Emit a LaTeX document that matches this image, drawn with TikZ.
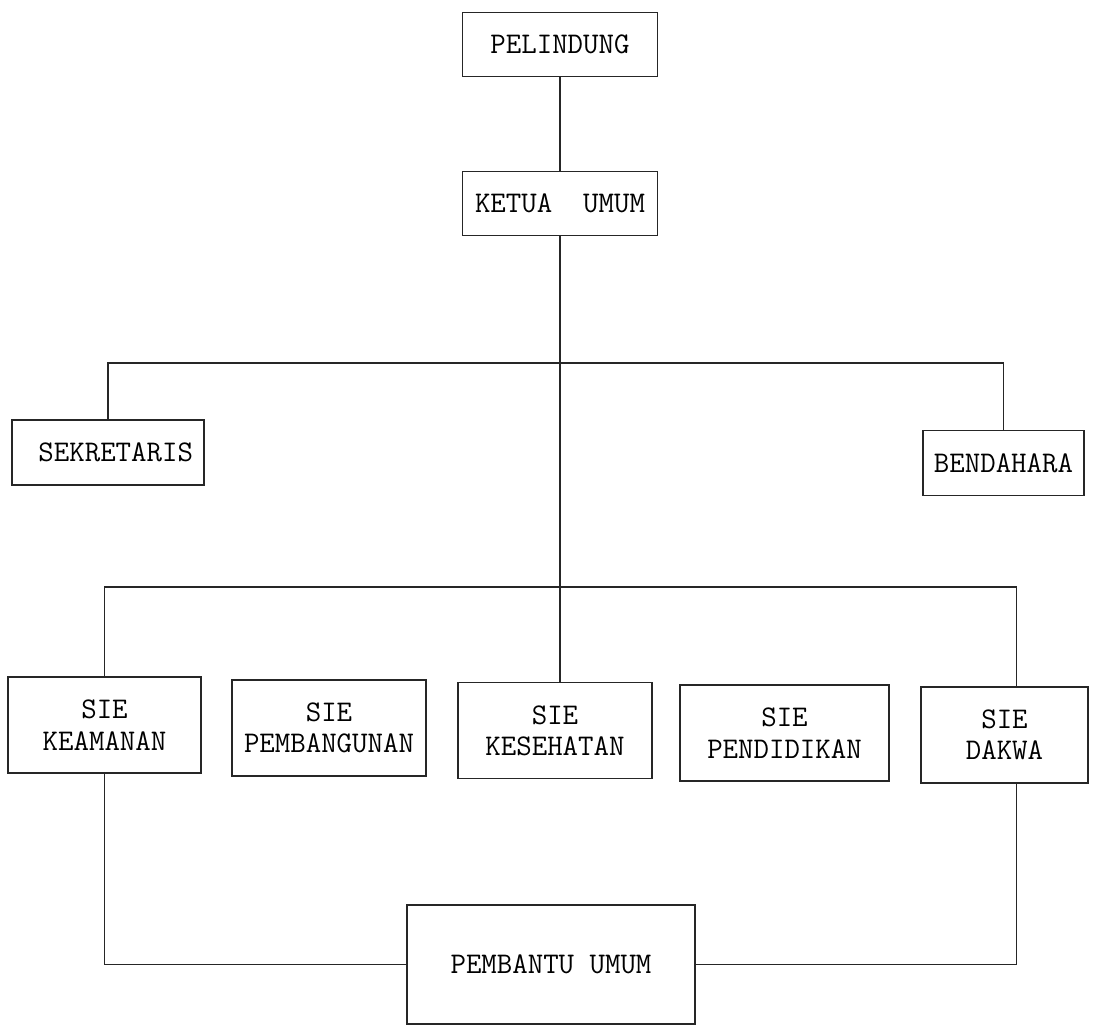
\documentclass[tikz,border=0pt]{standalone}
\usepackage{tikz}
\usetikzlibrary{calc}

\begin{document}
\begin{tikzpicture}[
  x=0.75pt, y=-0.75pt,
  line width=1.2pt,
  box/.style={
    rectangle,
    fill=white!100,
    line width=1.2pt,
    draw=black!85,
    inner sep=0pt,
    outer sep=0pt,
    align=center,
    font=\fontsize{22.5}{23.5}\selectfont\ttfamily
  },
  top box/.style={
    box,
    minimum height=48pt, minimum width=146pt
  },
  staff box/.style={
    box,
    minimum height=48.5pt
  },
  sie box/.style={
    box,
    minimum height=72pt
  },
  helper box/.style={
    box,
    minimum height=89pt, minimum width=216pt
  },
  link/.style={
    draw=black!85,
    line width=1.2pt
  }
  ]
\useasboundingbox (0,0) rectangle (1101,1031);
% Pelindung and Ketua Umum
\node [top box] (pelindung) at (560,44.5) {PELINDUNG};
\node [top box] (ketua umum) at (560,203.5) {KETUA~~UMUM};
\draw[link] (pelindung.south) -- (ketua umum.north);
% Sekretaris and Bendahara
\node [staff box, minimum width=144pt] (sekretaris) at (108,452.5) {~SEKRETARIS};
\node [staff box, minimum width=121pt] (bendahara) at (1003.5,463) {BENDAHARA};
\coordinate (bus top) at (560,363);
\draw[link] (sekretaris.north) |- (bus top) -| (bendahara.north);
% Seksi
\node [sie box, minimum width=145pt] (keamanan) at (104.5,725) {SIE\\KEAMANAN};
\node [sie box, minimum width=145.5pt] (pembangunan) at (329,728) {SIE\\PEMBANGUNAN};
\node [sie box, minimum width=145.5pt] (kesehatan) at (555,730.5) {SIE\\KESEHATAN};
\node [sie box, minimum width=157pt] (pendidikan) at (784.5,733) {SIE\\PENDIDIKAN};
\node [sie box, minimum width=125pt] (dakwa) at (1004.5,735) {SIE\\DAKWA};
\draw[link] (ketua umum.south) -- (ketua umum.south |- kesehatan.north);
\coordinate (bus low) at (560,587);
\draw[link] (keamanan.north) |- (bus low) -| ($(dakwa.north)+(12,0)$);
% Pembantu Umum
\node [helper box] (pembantu umum) at (551,964.5) {PEMBANTU UMUM};
\draw[link] (keamanan.south) |- (pembantu umum.west);
\draw[link] ($(dakwa.south)+(12,0)$) |- (pembantu umum.east);
\end{tikzpicture}
\end{document}
